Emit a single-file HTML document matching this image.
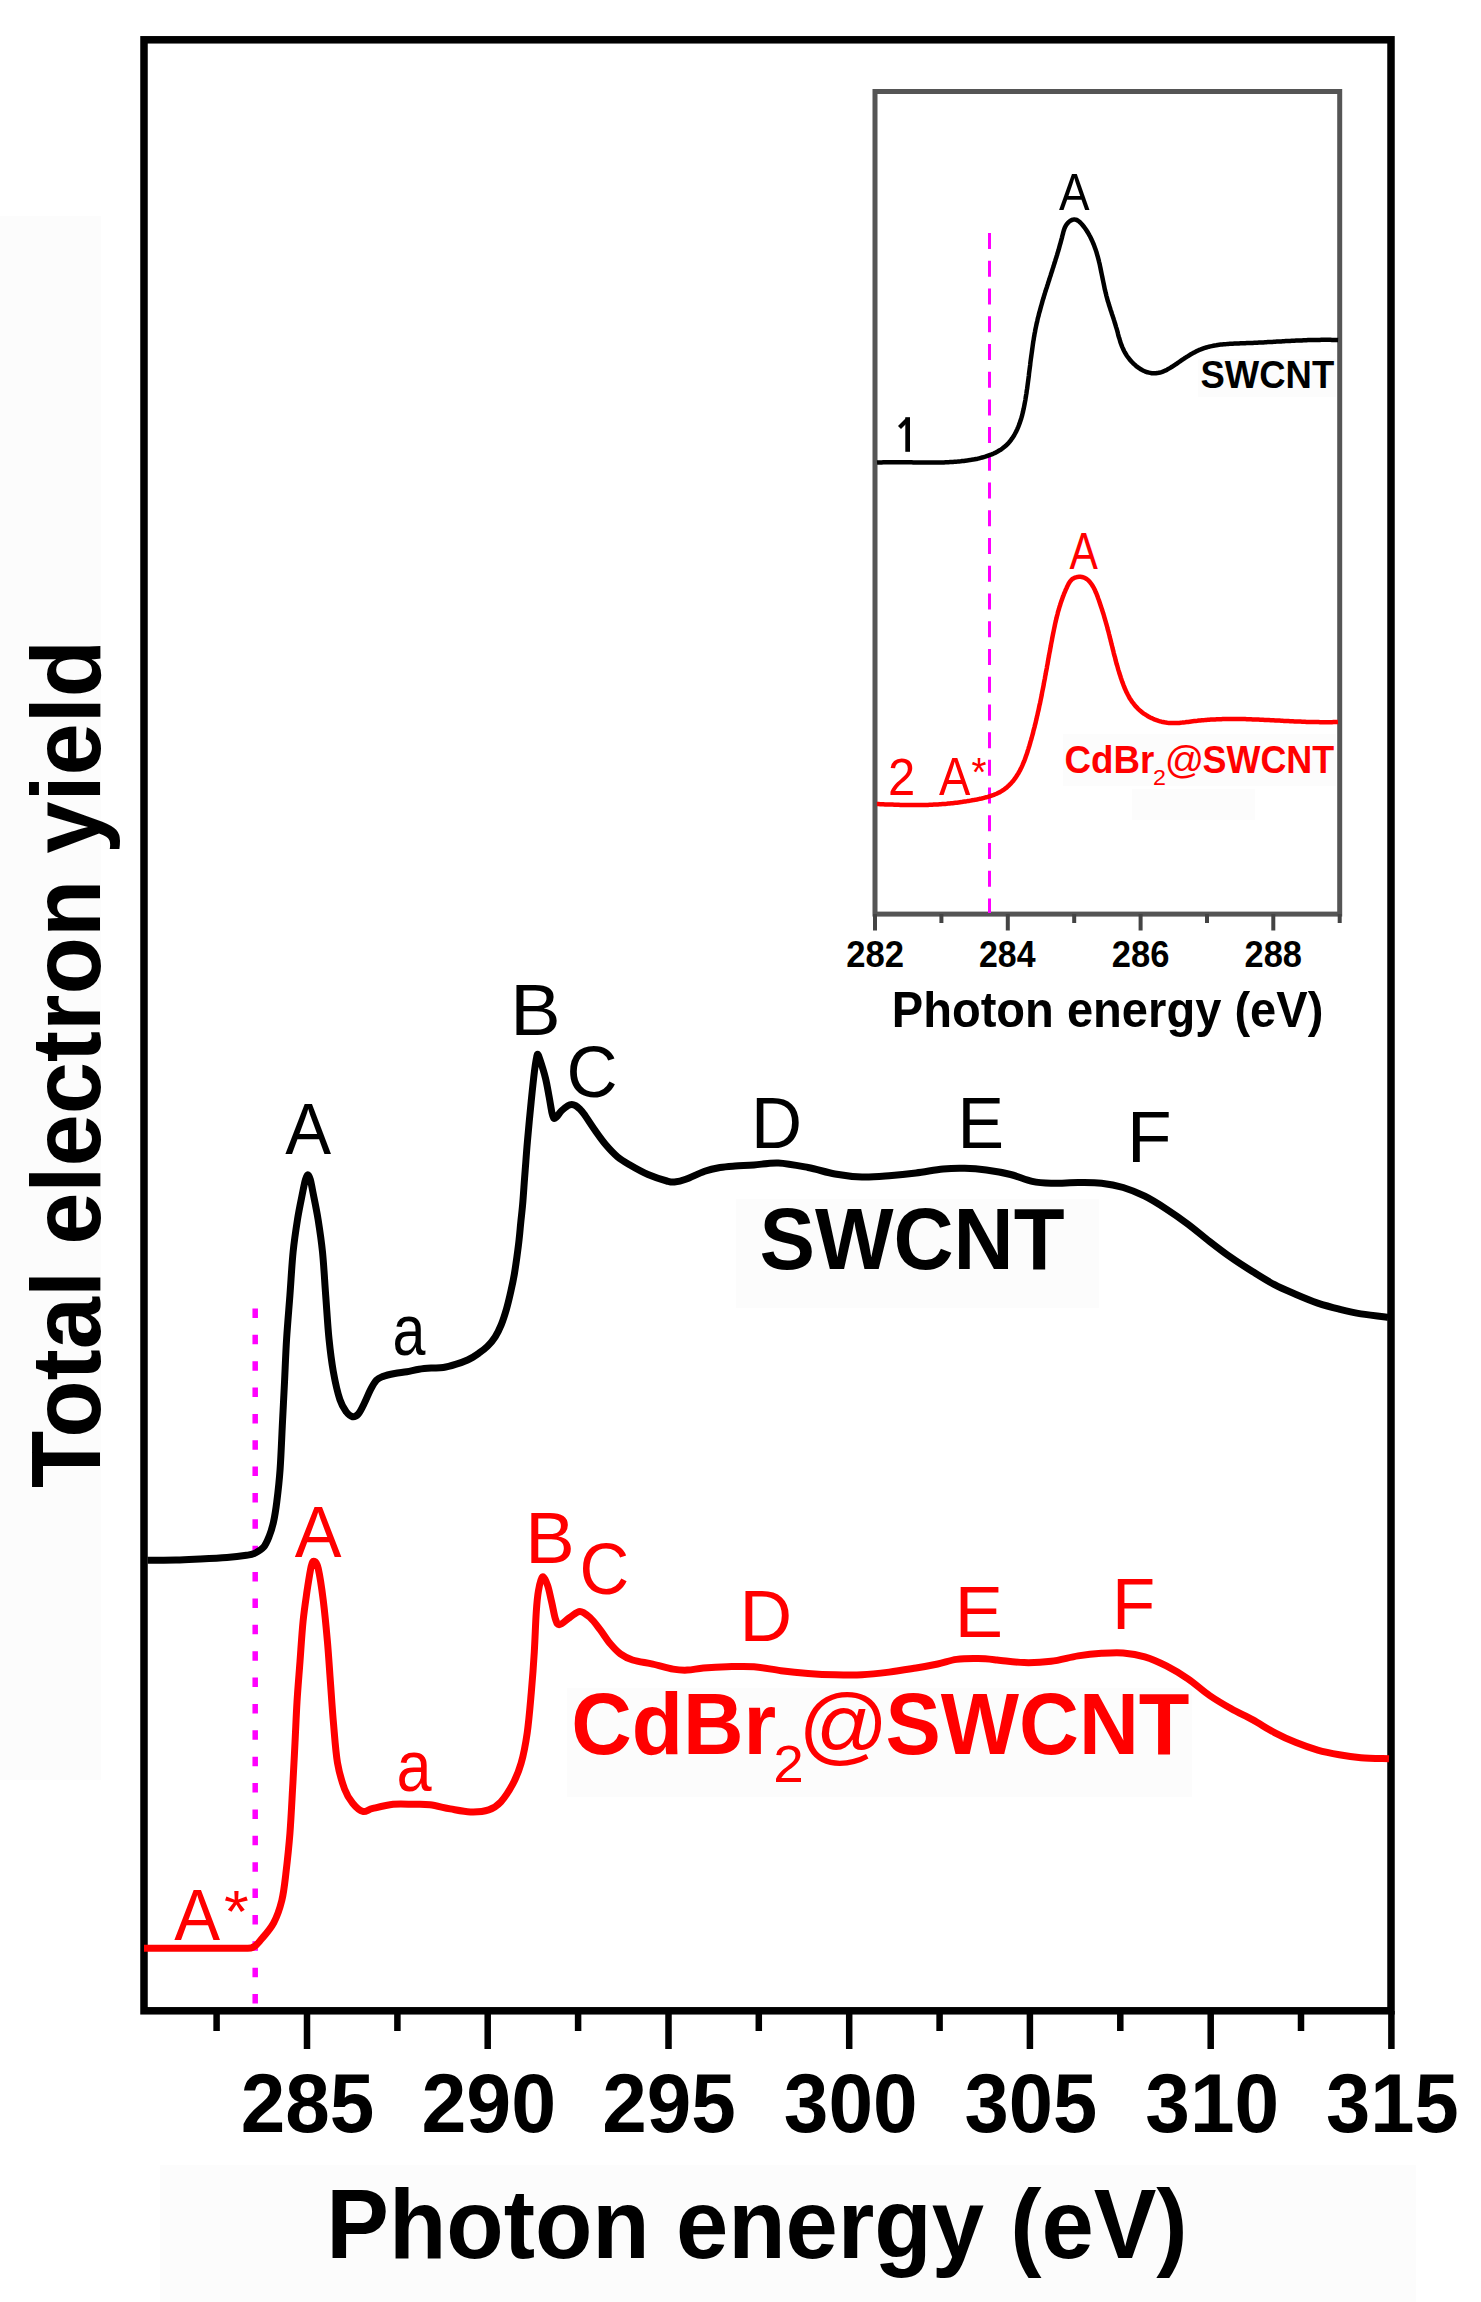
<!DOCTYPE html>
<html><head><meta charset="utf-8"><style>
html,body{margin:0;padding:0;background:#fff;width:1481px;height:2302px;overflow:hidden;position:relative}
text{font-family:"Liberation Sans",sans-serif}
</style></head><body>
<svg width="1481" height="2302" viewBox="0 0 1481 2302" style="position:absolute;left:0;top:0">
<rect x="0" y="216" width="101" height="1564" fill="#fcfcfc"/>
<rect x="736" y="1199" width="363" height="109" fill="#fcfcfc"/>
<rect x="567" y="1688" width="625" height="109" fill="#fcfcfc"/>
<rect x="160" y="2165" width="1256" height="137" fill="#fcfcfc"/>
<rect x="1198" y="359" width="138" height="38" fill="#fcfcfc"/>
<rect x="1063" y="734" width="273" height="52" fill="#fcfcfc"/>
<rect x="1132" y="789" width="123" height="31" fill="#fcfcfc"/>
<rect x="144" y="39.8" width="1247" height="1971" fill="none" stroke="#000" stroke-width="7.5"/>
<path d="M307.0,2011V2049 M487.7,2011V2049 M668.5,2011V2049 M849.2,2011V2049 M1029.9,2011V2049 M1210.7,2011V2049 M1391.4,2011V2049 M216.6,2011V2031 M397.4,2011V2031 M578.1,2011V2031 M758.8,2011V2031 M939.6,2011V2031 M1120.3,2011V2031 M1301.0,2011V2031" stroke="#000" stroke-width="6.5" fill="none"/>
<path d="M255.2,1308.4V2006" stroke="#ff00ff" stroke-width="5.5" stroke-dasharray="9.5 16.87" fill="none"/>
<path d="M147.6,1560.3 C152.3,1560.2 167.3,1560.2 176.0,1560.0 C184.7,1559.8 191.5,1559.4 200.0,1559.0 C208.5,1558.6 219.2,1558.1 226.9,1557.5 C234.6,1556.9 241.8,1556.0 246.4,1555.3 C251.0,1554.6 251.7,1554.6 254.5,1553.3 C257.4,1552.0 261.0,1550.2 263.5,1547.3 C266.0,1544.4 267.6,1540.2 269.3,1536.0 C271.0,1531.8 272.2,1527.7 273.5,1522.0 C274.8,1516.3 275.7,1510.6 276.8,1501.8 C277.9,1493.0 279.2,1481.9 280.1,1469.2 C281.0,1456.5 281.6,1440.3 282.3,1425.8 C283.0,1411.3 283.8,1396.9 284.5,1382.4 C285.2,1367.9 285.7,1353.4 286.6,1338.9 C287.5,1324.4 288.8,1310.0 289.9,1295.5 C291.0,1281.0 291.8,1264.7 293.1,1252.0 C294.4,1239.3 295.9,1229.6 297.5,1219.5 C299.1,1209.4 301.6,1197.9 302.9,1191.2 C304.2,1184.5 304.7,1182.2 305.5,1179.5 C306.3,1176.8 307.0,1174.8 307.8,1174.8 C308.6,1174.8 309.5,1176.8 310.3,1179.5 C311.1,1182.2 311.4,1184.5 312.7,1191.2 C314.0,1197.9 316.5,1209.4 318.1,1219.5 C319.7,1229.6 321.2,1239.3 322.5,1252.0 C323.8,1264.7 324.6,1281.0 325.7,1295.5 C326.8,1310.0 327.7,1326.2 329.0,1338.9 C330.3,1351.6 331.5,1361.4 333.3,1371.5 C335.1,1381.6 337.7,1393.0 339.9,1399.7 C342.1,1406.5 344.3,1409.2 346.4,1412.0 C348.5,1414.8 350.4,1416.3 352.4,1416.7 C354.4,1417.1 356.2,1416.4 358.2,1414.2 C360.2,1412.0 362.3,1407.3 364.3,1403.3 C366.3,1399.2 368.4,1393.8 370.4,1389.9 C372.4,1386.1 374.5,1382.4 376.5,1380.2 C378.5,1378.0 379.5,1377.7 382.5,1376.6 C385.5,1375.5 390.6,1374.3 394.7,1373.5 C398.8,1372.7 402.8,1372.4 406.8,1371.7 C410.9,1371.0 414.9,1369.9 419.0,1369.3 C423.1,1368.7 427.1,1368.4 431.2,1368.1 C435.2,1367.8 439.2,1368.1 443.3,1367.5 C447.4,1366.9 451.4,1365.7 455.5,1364.4 C459.6,1363.2 463.7,1361.8 467.6,1360.0 C471.5,1358.2 475.4,1355.6 478.7,1353.3 C482.0,1351.0 484.6,1349.2 487.4,1346.4 C490.1,1343.7 492.9,1340.4 495.2,1336.8 C497.5,1333.2 499.4,1329.2 501.3,1324.6 C503.2,1320.0 504.9,1314.5 506.5,1309.0 C508.1,1303.5 509.5,1297.4 510.8,1291.6 C512.1,1285.8 513.3,1280.1 514.3,1274.3 C515.3,1268.5 516.1,1262.7 516.9,1256.9 C517.7,1251.1 518.5,1245.3 519.1,1239.5 C519.8,1233.7 520.2,1227.9 520.8,1222.1 C521.4,1216.3 522.1,1210.6 522.6,1204.8 C523.1,1199.0 523.5,1193.2 523.9,1187.4 C524.3,1181.6 524.6,1177.6 525.2,1170.0 C525.8,1162.4 526.4,1153.2 527.4,1141.8 C528.4,1130.3 530.0,1113.1 531.2,1101.3 C532.4,1089.5 533.6,1078.1 534.5,1070.9 C535.4,1063.7 536.0,1060.8 536.5,1058.0 C537.0,1055.2 537.3,1054.1 537.8,1054.3 C538.3,1054.5 538.4,1055.0 539.7,1058.9 C541.0,1062.8 543.8,1071.5 545.4,1077.8 C547.0,1084.1 548.0,1090.8 549.1,1096.7 C550.2,1102.6 551.2,1109.4 552.0,1113.0 C552.8,1116.6 553.1,1117.6 553.9,1118.3 C554.6,1119.0 555.2,1118.2 556.5,1117.0 C557.8,1115.8 559.5,1112.8 561.4,1110.9 C563.3,1109.0 566.3,1106.7 568.0,1105.6 C569.7,1104.5 570.5,1104.5 571.8,1104.5 C573.1,1104.5 574.3,1104.9 575.6,1105.6 C576.9,1106.3 578.1,1107.4 579.5,1108.8 C580.9,1110.2 581.4,1110.4 584.0,1114.0 C586.6,1117.6 591.3,1125.1 595.0,1130.3 C598.7,1135.5 602.2,1140.6 606.0,1145.0 C609.8,1149.4 613.6,1153.5 617.5,1156.8 C621.4,1160.0 624.0,1161.5 629.1,1164.5 C634.2,1167.5 641.7,1171.8 648.0,1174.5 C654.3,1177.2 662.5,1179.8 666.9,1181.0 C671.3,1182.2 671.2,1182.3 674.4,1182.0 C677.5,1181.7 680.8,1181.1 685.8,1179.3 C690.8,1177.5 699.0,1173.3 704.7,1171.3 C710.4,1169.3 715.0,1168.4 720.0,1167.5 C725.0,1166.6 729.3,1166.4 735.0,1166.0 C740.7,1165.6 746.8,1165.5 754.0,1165.0 C761.2,1164.5 769.3,1162.6 778.3,1163.0 C787.3,1163.4 798.5,1165.7 808.0,1167.5 C817.5,1169.3 826.0,1172.4 835.0,1174.0 C844.0,1175.6 853.0,1176.7 862.0,1177.0 C871.0,1177.3 880.1,1176.4 889.1,1175.7 C898.1,1175.0 907.1,1174.1 916.1,1173.0 C925.1,1171.9 935.0,1169.8 943.1,1169.0 C951.2,1168.2 957.5,1168.1 964.7,1168.3 C971.9,1168.5 978.6,1169.0 986.3,1170.0 C993.9,1171.0 1003.0,1172.6 1010.6,1174.5 C1018.2,1176.4 1025.5,1179.8 1032.2,1181.3 C1039.0,1182.8 1043.4,1183.0 1051.1,1183.2 C1058.8,1183.4 1069.7,1182.6 1078.1,1182.6 C1086.5,1182.6 1094.1,1182.4 1101.6,1183.2 C1109.1,1184.0 1116.0,1185.3 1123.2,1187.5 C1130.4,1189.7 1137.6,1192.6 1144.8,1196.2 C1152.0,1199.8 1159.2,1204.4 1166.4,1209.1 C1173.6,1213.8 1180.8,1218.8 1188.0,1224.2 C1195.2,1229.6 1202.4,1235.9 1209.6,1241.5 C1216.8,1247.1 1224.1,1252.7 1231.3,1257.7 C1238.5,1262.8 1245.7,1267.3 1252.9,1271.8 C1260.1,1276.3 1267.3,1280.9 1274.5,1284.7 C1281.7,1288.5 1288.9,1291.4 1296.1,1294.5 C1303.3,1297.6 1310.5,1300.6 1317.7,1303.1 C1324.9,1305.5 1332.1,1307.4 1339.3,1309.2 C1346.5,1311.0 1352.8,1312.6 1360.9,1313.9 C1369.0,1315.2 1383.5,1316.7 1388.0,1317.2" stroke="#000" stroke-width="7" fill="none" stroke-linejoin="round" stroke-linecap="butt"/>
<path d="M144.0,1948.3 C150.1,1948.3 164.3,1948.3 180.5,1948.3 C196.7,1948.3 229.2,1948.4 241.3,1948.2 C253.5,1948.0 250.0,1948.5 253.4,1947.0 C256.8,1945.5 258.1,1943.0 261.5,1939.0 C264.9,1935.0 270.3,1929.2 273.7,1922.8 C277.1,1916.4 279.8,1908.6 281.8,1900.5 C283.8,1892.4 284.5,1885.3 285.8,1874.2 C287.1,1863.1 288.7,1848.9 289.9,1833.7 C291.1,1818.5 292.0,1798.3 292.9,1783.1 C293.8,1767.9 294.3,1756.1 295.0,1742.6 C295.7,1729.1 296.2,1715.5 297.0,1702.0 C297.8,1688.5 299.0,1675.0 300.0,1661.5 C301.0,1648.0 301.9,1632.8 303.1,1621.0 C304.3,1609.2 305.8,1599.7 307.1,1590.6 C308.5,1581.5 310.0,1571.2 311.2,1566.3 C312.4,1561.4 313.0,1560.9 314.2,1561.3 C315.4,1561.7 316.7,1561.8 318.2,1568.4 C319.7,1575.0 321.8,1588.7 323.3,1600.8 C324.8,1612.9 326.2,1627.8 327.4,1641.3 C328.6,1654.8 329.4,1668.3 330.4,1681.8 C331.4,1695.3 332.2,1708.8 333.4,1722.3 C334.6,1735.8 335.6,1751.7 337.5,1762.8 C339.4,1773.9 342.1,1782.3 344.6,1789.1 C347.1,1795.8 349.7,1799.6 352.7,1803.3 C355.7,1807.0 359.4,1810.6 362.8,1811.4 C366.2,1812.2 367.8,1809.6 372.9,1808.4 C378.0,1807.2 386.4,1805.0 393.2,1804.3 C399.9,1803.6 407.3,1804.2 413.4,1804.3 C419.5,1804.4 423.9,1804.0 430.0,1804.8 C436.1,1805.6 443.6,1807.7 450.3,1808.9 C457.1,1810.1 464.1,1811.7 470.5,1811.9 C476.9,1812.1 483.6,1811.6 488.7,1809.9 C493.8,1808.2 496.8,1806.2 500.9,1801.8 C504.9,1797.4 509.6,1790.0 513.0,1783.6 C516.4,1777.2 518.7,1771.8 521.1,1763.3 C523.5,1754.8 525.5,1744.7 527.2,1732.9 C528.9,1721.1 530.1,1705.9 531.3,1692.4 C532.5,1678.9 533.5,1665.4 534.3,1651.9 C535.1,1638.4 535.6,1621.5 536.3,1611.4 C537.0,1601.3 537.4,1596.8 538.4,1591.1 C539.4,1585.4 540.9,1578.0 542.4,1577.0 C543.9,1576.0 546.0,1581.0 547.5,1585.1 C549.0,1589.1 550.1,1595.6 551.5,1601.3 C552.9,1607.0 554.2,1615.6 555.6,1619.5 C557.0,1623.4 557.2,1624.9 559.6,1624.6 C562.0,1624.3 566.4,1619.7 569.8,1617.5 C573.2,1615.3 576.5,1611.4 579.9,1611.4 C583.3,1611.4 586.6,1614.5 590.0,1617.5 C593.4,1620.5 596.7,1625.2 600.1,1629.6 C603.5,1634.0 606.9,1639.8 610.3,1643.8 C613.7,1647.8 616.7,1651.2 620.4,1653.9 C624.1,1656.6 627.2,1658.3 632.6,1660.0 C638.0,1661.7 646.0,1662.6 652.8,1664.1 C659.5,1665.6 667.4,1668.1 673.1,1669.1 C678.8,1670.1 682.2,1670.3 687.2,1670.1 C692.2,1669.9 696.8,1668.7 703.4,1668.1 C710.0,1667.5 718.6,1666.9 727.0,1666.7 C735.4,1666.5 745.0,1666.0 754.0,1666.7 C763.0,1667.4 772.0,1669.6 781.0,1670.7 C790.0,1671.8 799.0,1672.7 808.0,1673.4 C817.0,1674.1 826.0,1674.6 835.0,1674.8 C844.0,1675.0 853.0,1675.2 862.0,1674.8 C871.0,1674.3 880.1,1673.2 889.1,1672.1 C898.1,1671.0 908.0,1669.3 916.1,1668.0 C924.2,1666.7 931.0,1665.4 937.7,1664.0 C944.5,1662.6 949.9,1660.3 956.6,1659.4 C963.4,1658.5 971.5,1658.5 978.2,1658.6 C985.0,1658.7 989.5,1659.2 997.1,1659.9 C1004.8,1660.6 1015.1,1662.4 1024.1,1662.6 C1033.1,1662.8 1042.1,1662.4 1051.1,1661.3 C1060.1,1660.2 1069.7,1657.2 1078.1,1655.9 C1086.5,1654.6 1094.1,1653.8 1101.6,1653.3 C1109.1,1652.8 1116.0,1652.3 1123.2,1652.9 C1130.4,1653.5 1137.6,1654.6 1144.8,1656.8 C1152.0,1659.0 1159.2,1662.2 1166.4,1665.9 C1173.6,1669.6 1180.8,1673.9 1188.0,1678.8 C1195.2,1683.7 1202.4,1690.5 1209.6,1695.5 C1216.8,1700.5 1224.1,1704.7 1231.3,1708.8 C1238.5,1712.9 1245.7,1715.9 1252.9,1719.9 C1260.1,1723.9 1267.3,1728.8 1274.5,1732.6 C1281.7,1736.4 1288.9,1739.7 1296.1,1742.6 C1303.3,1745.5 1310.5,1748.1 1317.7,1750.1 C1324.9,1752.1 1332.1,1753.5 1339.3,1754.8 C1346.5,1756.1 1352.6,1757.0 1360.9,1757.7 C1369.2,1758.4 1384.3,1758.6 1389.0,1758.8" stroke="#ff0000" stroke-width="7" fill="none" stroke-linejoin="round" stroke-linecap="butt"/>
<rect x="875" y="91.5" width="464.7" height="822.6" fill="none" stroke="#555" stroke-width="5"/>
<path d="M875.0,914V930.5 M1007.8,914V930.5 M1140.6,914V930.5 M1273.3,914V930.5 M941.4,914V923 M1074.2,914V923 M1207.0,914V923 M1339.7,914V923" stroke="#444" stroke-width="4" fill="none"/>
<path d="M989.5,233V913" stroke="#ff00ff" stroke-width="3" stroke-dasharray="16 11.73" fill="none"/>
<path d="M877.0,462.6 L878.6,462.5 L880.1,462.5 L881.7,462.4 L883.2,462.3 L884.8,462.3 L886.3,462.3 L887.9,462.2 L889.4,462.2 L890.9,462.2 L892.4,462.2 L893.9,462.2 L895.4,462.2 L896.9,462.2 L898.4,462.2 L899.9,462.2 L901.4,462.2 L902.9,462.2 L904.4,462.2 L905.8,462.2 L907.3,462.3 L908.8,462.3 L910.3,462.3 L911.7,462.3 L913.2,462.4 L914.7,462.4 L916.1,462.4 L917.6,462.4 L919.0,462.5 L920.5,462.5 L922.0,462.5 L923.4,462.5 L924.9,462.6 L926.3,462.6 L927.8,462.6 L929.3,462.6 L930.7,462.6 L932.2,462.6 L933.7,462.6 L935.1,462.6 L936.6,462.6 L938.1,462.5 L939.6,462.5 L941.0,462.5 L942.5,462.5 L944.0,462.4 L945.5,462.3 L947.0,462.3 L948.5,462.2 L950.0,462.1 L951.5,462.0 L953.0,461.9 L954.5,461.8 L956.1,461.7 L957.6,461.6 L959.1,461.4 L960.7,461.3 L962.2,461.1 L963.8,461.0 L965.3,460.8 L966.9,460.6 L968.4,460.3 L970.0,460.1 L971.5,459.8 L973.1,459.6 L974.6,459.3 L976.2,459.0 L977.7,458.7 L979.2,458.3 L980.7,457.9 L982.2,457.5 L983.7,457.1 L985.2,456.7 L986.7,456.2 L988.1,455.7 L989.5,455.2 L990.9,454.7 L992.3,454.1 L993.7,453.5 L995.0,452.9 L996.3,452.2 L997.6,451.5 L998.8,450.8 L1000.1,450.1 L1001.3,449.3 L1002.4,448.5 L1003.5,447.6 L1004.6,446.7 L1005.7,445.8 L1006.7,444.8 L1007.7,443.8 L1008.7,442.8 L1009.6,441.8 L1010.5,440.7 L1011.3,439.5 L1012.1,438.4 L1012.9,437.2 L1013.7,436.0 L1014.4,434.8 L1015.1,433.5 L1015.8,432.2 L1016.5,430.9 L1017.1,429.6 L1017.7,428.2 L1018.3,426.8 L1018.8,425.5 L1019.3,424.0 L1019.9,422.6 L1020.3,421.2 L1020.8,419.7 L1021.3,418.2 L1021.7,416.8 L1022.1,415.3 L1022.5,413.7 L1022.9,412.2 L1023.2,410.7 L1023.6,409.2 L1023.9,407.6 L1024.2,406.1 L1024.5,404.5 L1024.8,402.9 L1025.1,401.4 L1025.4,399.8 L1025.6,398.3 L1025.9,396.7 L1026.1,395.1 L1026.4,393.6 L1026.6,392.0 L1026.8,390.4 L1027.1,388.9 L1027.3,387.3 L1027.5,385.8 L1027.7,384.3 L1027.9,382.7 L1028.1,381.2 L1028.3,379.7 L1028.5,378.2 L1028.7,376.7 L1028.9,375.2 L1029.0,373.7 L1029.2,372.2 L1029.4,370.7 L1029.6,369.2 L1029.8,367.7 L1030.0,366.2 L1030.2,364.7 L1030.3,363.3 L1030.5,361.8 L1030.7,360.3 L1030.9,358.8 L1031.1,357.4 L1031.3,355.9 L1031.5,354.5 L1031.7,353.0 L1031.9,351.6 L1032.1,350.1 L1032.3,348.6 L1032.5,347.2 L1032.7,345.8 L1032.9,344.3 L1033.1,342.9 L1033.3,341.4 L1033.6,340.0 L1033.8,338.5 L1034.0,337.1 L1034.3,335.7 L1034.5,334.2 L1034.8,332.8 L1035.1,331.4 L1035.3,329.9 L1035.6,328.5 L1035.9,327.1 L1036.2,325.6 L1036.5,324.2 L1036.8,322.8 L1037.2,321.3 L1037.5,319.9 L1037.8,318.4 L1038.2,317.0 L1038.6,315.6 L1038.9,314.1 L1039.3,312.7 L1039.7,311.3 L1040.1,309.8 L1040.5,308.4 L1040.9,306.9 L1041.3,305.5 L1041.7,304.1 L1042.1,302.6 L1042.5,301.2 L1042.9,299.7 L1043.4,298.3 L1043.8,296.8 L1044.2,295.4 L1044.7,294.0 L1045.1,292.5 L1045.6,291.1 L1046.0,289.6 L1046.5,288.2 L1047.0,286.7 L1047.4,285.3 L1047.9,283.9 L1048.3,282.4 L1048.8,281.0 L1049.3,279.5 L1049.7,278.1 L1050.2,276.6 L1050.7,275.2 L1051.1,273.7 L1051.6,272.3 L1052.1,270.8 L1052.5,269.4 L1053.0,267.9 L1053.5,266.5 L1053.9,265.0 L1054.4,263.6 L1054.8,262.1 L1055.3,260.7 L1055.7,259.2 L1056.2,257.8 L1056.6,256.3 L1057.1,254.9 L1057.5,253.4 L1057.9,252.0 L1058.4,250.5 L1058.8,249.1 L1059.2,247.6 L1059.6,246.2 L1060.0,244.7 L1060.4,243.3 L1060.8,241.8 L1061.2,240.4 L1061.6,238.9 L1062.0,237.5 L1062.3,236.0 L1062.7,234.6 L1063.1,233.1 L1063.4,231.7 L1063.9,230.3 L1064.3,228.9 L1064.9,227.5 L1065.5,226.2 L1066.3,224.9 L1067.2,223.7 L1068.2,222.6 L1069.3,221.5 L1070.5,220.7 L1071.8,220.0 L1073.1,219.6 L1074.3,219.4 L1075.6,219.6 L1076.8,220.0 L1078.0,220.7 L1079.1,221.5 L1080.2,222.5 L1081.3,223.6 L1082.3,224.8 L1083.3,226.0 L1084.3,227.2 L1085.2,228.5 L1086.1,229.8 L1086.9,231.1 L1087.8,232.4 L1088.6,233.8 L1089.3,235.1 L1090.1,236.5 L1090.8,237.9 L1091.4,239.3 L1092.1,240.7 L1092.7,242.1 L1093.3,243.5 L1093.9,244.9 L1094.4,246.3 L1094.9,247.7 L1095.4,249.1 L1095.9,250.5 L1096.4,251.9 L1096.8,253.4 L1097.2,254.8 L1097.6,256.2 L1098.0,257.7 L1098.4,259.1 L1098.8,260.6 L1099.1,262.0 L1099.5,263.5 L1099.8,264.9 L1100.1,266.4 L1100.4,267.8 L1100.7,269.3 L1101.0,270.7 L1101.3,272.2 L1101.6,273.6 L1101.9,275.1 L1102.2,276.5 L1102.5,278.0 L1102.8,279.5 L1103.1,280.9 L1103.4,282.4 L1103.7,283.8 L1104.0,285.3 L1104.3,286.8 L1104.6,288.2 L1104.9,289.7 L1105.3,291.1 L1105.6,292.6 L1106.0,294.0 L1106.3,295.5 L1106.7,296.9 L1107.1,298.4 L1107.5,299.8 L1107.9,301.3 L1108.4,302.7 L1108.8,304.2 L1109.2,305.6 L1109.7,307.0 L1110.2,308.5 L1110.6,309.9 L1111.1,311.3 L1111.6,312.8 L1112.0,314.2 L1112.5,315.6 L1113.0,317.1 L1113.5,318.5 L1113.9,319.9 L1114.4,321.4 L1114.8,322.8 L1115.3,324.3 L1115.7,325.7 L1116.1,327.1 L1116.6,328.6 L1117.0,330.0 L1117.4,331.4 L1117.8,332.9 L1118.1,334.3 L1118.5,335.8 L1118.9,337.2 L1119.4,338.6 L1119.8,340.0 L1120.2,341.5 L1120.7,342.9 L1121.2,344.3 L1121.7,345.7 L1122.3,347.1 L1122.9,348.4 L1123.5,349.8 L1124.2,351.2 L1124.9,352.5 L1125.7,353.8 L1126.5,355.2 L1127.4,356.5 L1128.3,357.7 L1129.3,359.0 L1130.3,360.2 L1131.3,361.4 L1132.4,362.5 L1133.5,363.6 L1134.7,364.7 L1135.8,365.7 L1137.0,366.7 L1138.3,367.6 L1139.5,368.4 L1140.8,369.3 L1142.1,370.0 L1143.5,370.7 L1144.8,371.3 L1146.2,371.8 L1147.5,372.3 L1148.9,372.6 L1150.3,372.9 L1151.7,373.2 L1153.1,373.3 L1154.5,373.3 L1155.9,373.3 L1157.3,373.1 L1158.7,372.8 L1160.1,372.5 L1161.5,372.1 L1162.9,371.6 L1164.3,371.0 L1165.7,370.4 L1167.1,369.7 L1168.4,368.9 L1169.8,368.1 L1171.1,367.3 L1172.5,366.5 L1173.8,365.6 L1175.2,364.7 L1176.5,363.8 L1177.8,362.9 L1179.1,362.0 L1180.4,361.1 L1181.7,360.2 L1182.9,359.4 L1184.2,358.5 L1185.5,357.7 L1186.7,356.9 L1188.0,356.1 L1189.2,355.3 L1190.5,354.5 L1191.8,353.8 L1193.0,353.1 L1194.3,352.4 L1195.6,351.7 L1196.8,351.1 L1198.1,350.5 L1199.4,349.9 L1200.8,349.4 L1202.1,348.9 L1203.4,348.4 L1204.8,347.9 L1206.2,347.5 L1207.6,347.1 L1209.0,346.7 L1210.4,346.4 L1211.8,346.1 L1213.3,345.8 L1214.7,345.5 L1216.2,345.3 L1217.7,345.0 L1219.2,344.8 L1220.7,344.6 L1222.2,344.5 L1223.7,344.3 L1225.2,344.2 L1226.7,344.1 L1228.2,343.9 L1229.8,343.8 L1231.3,343.7 L1232.8,343.7 L1234.4,343.6 L1235.9,343.5 L1237.5,343.5 L1239.0,343.4 L1240.5,343.3 L1242.1,343.3 L1243.6,343.2 L1245.2,343.2 L1246.7,343.1 L1248.2,343.1 L1249.8,343.0 L1251.3,342.9 L1252.8,342.9 L1254.3,342.8 L1255.8,342.7 L1257.3,342.7 L1258.9,342.6 L1260.4,342.5 L1261.9,342.4 L1263.4,342.4 L1264.9,342.3 L1266.4,342.2 L1267.8,342.1 L1269.3,342.0 L1270.8,342.0 L1272.3,341.9 L1273.8,341.8 L1275.3,341.7 L1276.8,341.6 L1278.3,341.6 L1279.7,341.5 L1281.2,341.4 L1282.7,341.3 L1284.2,341.2 L1285.7,341.1 L1287.1,341.1 L1288.6,341.0 L1290.1,340.9 L1291.6,340.8 L1293.0,340.8 L1294.5,340.7 L1296.0,340.6 L1297.5,340.6 L1299.0,340.5 L1300.4,340.4 L1301.9,340.4 L1303.4,340.3 L1304.9,340.2 L1306.4,340.2 L1307.9,340.1 L1309.3,340.1 L1310.8,340.1 L1312.3,340.0 L1313.8,340.0 L1315.3,339.9 L1316.8,339.9 L1318.3,339.9 L1319.8,339.9 L1321.3,339.8 L1322.8,339.8 L1324.3,339.8 L1325.8,339.8 L1327.4,339.8 L1328.9,339.8 L1330.4,339.8 L1331.9,339.9 L1333.5,339.9 L1335.0,339.9 L1336.5,339.9 L1338.1,340.0" stroke="#000" stroke-width="4.5" fill="none" stroke-linejoin="round"/>
<path d="M876.9,804.1 L878.6,804.1 L880.2,804.2 L881.8,804.3 L883.4,804.3 L884.9,804.4 L886.5,804.4 L888.1,804.5 L889.6,804.5 L891.2,804.6 L892.7,804.6 L894.2,804.7 L895.8,804.7 L897.3,804.8 L898.8,804.8 L900.3,804.9 L901.8,804.9 L903.3,804.9 L904.8,805.0 L906.2,805.0 L907.7,805.0 L909.2,805.0 L910.7,805.0 L912.1,805.1 L913.6,805.1 L915.0,805.1 L916.5,805.1 L917.9,805.1 L919.4,805.0 L920.8,805.0 L922.2,805.0 L923.7,805.0 L925.1,804.9 L926.6,804.9 L928.0,804.9 L929.4,804.8 L930.9,804.8 L932.3,804.7 L933.7,804.6 L935.2,804.6 L936.6,804.5 L938.0,804.4 L939.5,804.3 L940.9,804.2 L942.4,804.1 L943.8,804.0 L945.3,803.9 L946.7,803.8 L948.2,803.6 L949.6,803.5 L951.1,803.3 L952.6,803.2 L954.0,803.0 L955.5,802.8 L957.0,802.7 L958.5,802.5 L960.0,802.3 L961.5,802.1 L963.0,801.8 L964.5,801.6 L966.0,801.4 L967.5,801.1 L969.1,800.9 L970.6,800.6 L972.2,800.3 L973.7,800.1 L975.3,799.8 L976.9,799.5 L978.5,799.1 L980.0,798.8 L981.6,798.5 L983.2,798.1 L984.7,797.7 L986.3,797.3 L987.8,796.9 L989.4,796.4 L990.9,795.9 L992.3,795.4 L993.8,794.9 L995.2,794.3 L996.6,793.7 L998.0,793.0 L999.3,792.4 L1000.6,791.7 L1001.9,790.9 L1003.1,790.1 L1004.3,789.3 L1005.5,788.4 L1006.6,787.6 L1007.6,786.6 L1008.7,785.7 L1009.7,784.7 L1010.7,783.7 L1011.7,782.6 L1012.6,781.6 L1013.5,780.5 L1014.3,779.4 L1015.2,778.2 L1016.0,777.0 L1016.8,775.8 L1017.5,774.6 L1018.3,773.4 L1019.0,772.1 L1019.7,770.9 L1020.4,769.6 L1021.0,768.3 L1021.7,766.9 L1022.3,765.6 L1022.9,764.2 L1023.4,762.9 L1024.0,761.5 L1024.6,760.1 L1025.1,758.7 L1025.6,757.3 L1026.1,755.8 L1026.6,754.4 L1027.1,753.0 L1027.6,751.5 L1028.0,750.1 L1028.5,748.6 L1028.9,747.2 L1029.4,745.7 L1029.8,744.3 L1030.2,742.8 L1030.6,741.4 L1031.1,739.9 L1031.5,738.4 L1031.9,737.0 L1032.3,735.5 L1032.7,734.1 L1033.1,732.6 L1033.4,731.1 L1033.8,729.7 L1034.2,728.2 L1034.6,726.8 L1034.9,725.3 L1035.3,723.8 L1035.7,722.4 L1036.0,720.9 L1036.4,719.4 L1036.7,718.0 L1037.0,716.5 L1037.4,715.1 L1037.7,713.6 L1038.0,712.1 L1038.4,710.7 L1038.7,709.2 L1039.0,707.7 L1039.3,706.3 L1039.6,704.8 L1040.0,703.3 L1040.3,701.9 L1040.6,700.4 L1040.9,698.9 L1041.2,697.5 L1041.5,696.0 L1041.8,694.5 L1042.0,693.1 L1042.3,691.6 L1042.6,690.1 L1042.9,688.7 L1043.2,687.2 L1043.5,685.7 L1043.8,684.2 L1044.0,682.8 L1044.3,681.3 L1044.6,679.8 L1044.9,678.4 L1045.1,676.9 L1045.4,675.4 L1045.7,674.0 L1045.9,672.5 L1046.2,671.0 L1046.5,669.6 L1046.8,668.1 L1047.0,666.6 L1047.3,665.1 L1047.6,663.7 L1047.8,662.2 L1048.1,660.7 L1048.3,659.3 L1048.6,657.8 L1048.9,656.3 L1049.1,654.9 L1049.4,653.4 L1049.7,651.9 L1050.0,650.5 L1050.2,649.0 L1050.5,647.5 L1050.8,646.0 L1051.0,644.6 L1051.3,643.1 L1051.6,641.6 L1051.9,640.2 L1052.1,638.7 L1052.4,637.2 L1052.7,635.8 L1053.0,634.3 L1053.3,632.8 L1053.6,631.4 L1053.9,629.9 L1054.2,628.4 L1054.5,627.0 L1054.8,625.5 L1055.1,624.0 L1055.4,622.6 L1055.8,621.1 L1056.1,619.7 L1056.5,618.2 L1056.8,616.7 L1057.2,615.3 L1057.6,613.8 L1057.9,612.4 L1058.3,610.9 L1058.8,609.5 L1059.2,608.0 L1059.6,606.6 L1060.1,605.2 L1060.5,603.7 L1061.0,602.3 L1061.5,600.8 L1062.0,599.4 L1062.5,598.0 L1063.0,596.5 L1063.6,595.1 L1064.1,593.7 L1064.7,592.3 L1065.3,590.9 L1065.9,589.4 L1066.6,588.0 L1067.2,586.6 L1067.9,585.2 L1068.6,583.8 L1069.4,582.5 L1070.2,581.3 L1071.2,580.2 L1072.2,579.2 L1073.4,578.4 L1074.7,577.7 L1076.1,577.3 L1077.5,576.9 L1079.0,576.8 L1080.4,576.8 L1081.8,577.0 L1083.1,577.3 L1084.3,577.7 L1085.5,578.3 L1086.6,579.0 L1087.7,579.8 L1088.7,580.7 L1089.6,581.7 L1090.5,582.8 L1091.4,584.0 L1092.2,585.2 L1093.0,586.5 L1093.8,587.9 L1094.5,589.3 L1095.2,590.8 L1095.8,592.3 L1096.5,593.8 L1097.1,595.4 L1097.7,596.9 L1098.2,598.5 L1098.8,600.0 L1099.3,601.5 L1099.8,603.0 L1100.3,604.5 L1100.8,606.0 L1101.3,607.4 L1101.8,608.9 L1102.2,610.3 L1102.7,611.7 L1103.1,613.1 L1103.6,614.5 L1104.0,615.9 L1104.4,617.3 L1104.8,618.7 L1105.2,620.1 L1105.6,621.4 L1106.0,622.8 L1106.4,624.2 L1106.8,625.6 L1107.2,627.0 L1107.5,628.4 L1107.9,629.8 L1108.3,631.2 L1108.7,632.6 L1109.0,634.0 L1109.4,635.4 L1109.7,636.9 L1110.1,638.3 L1110.5,639.7 L1110.8,641.2 L1111.2,642.6 L1111.5,644.1 L1111.9,645.5 L1112.3,647.0 L1112.6,648.4 L1113.0,649.9 L1113.4,651.4 L1113.7,652.8 L1114.1,654.3 L1114.5,655.8 L1114.9,657.2 L1115.3,658.7 L1115.6,660.2 L1116.0,661.6 L1116.4,663.1 L1116.8,664.6 L1117.3,666.0 L1117.7,667.5 L1118.1,669.0 L1118.5,670.4 L1119.0,671.9 L1119.4,673.3 L1119.9,674.8 L1120.4,676.2 L1120.8,677.7 L1121.3,679.1 L1121.8,680.6 L1122.3,682.0 L1122.9,683.4 L1123.4,684.8 L1124.0,686.3 L1124.5,687.7 L1125.1,689.0 L1125.7,690.4 L1126.3,691.8 L1127.0,693.1 L1127.7,694.5 L1128.4,695.8 L1129.1,697.1 L1129.8,698.4 L1130.6,699.6 L1131.4,700.8 L1132.3,702.1 L1133.2,703.2 L1134.1,704.4 L1135.0,705.5 L1136.0,706.7 L1137.0,707.7 L1138.1,708.8 L1139.2,709.8 L1140.3,710.8 L1141.4,711.7 L1142.6,712.7 L1143.8,713.6 L1145.1,714.4 L1146.3,715.2 L1147.6,716.0 L1148.9,716.8 L1150.2,717.5 L1151.6,718.1 L1153.0,718.8 L1154.3,719.4 L1155.7,719.9 L1157.2,720.4 L1158.6,720.9 L1160.0,721.3 L1161.5,721.7 L1162.9,722.0 L1164.4,722.3 L1165.9,722.6 L1167.3,722.8 L1168.8,722.9 L1170.3,723.0 L1171.8,723.1 L1173.3,723.1 L1174.8,723.1 L1176.3,723.0 L1177.7,723.0 L1179.2,722.9 L1180.7,722.7 L1182.2,722.6 L1183.7,722.4 L1185.2,722.3 L1186.7,722.1 L1188.2,721.9 L1189.7,721.7 L1191.2,721.5 L1192.7,721.3 L1194.3,721.1 L1195.8,720.9 L1197.3,720.8 L1198.8,720.6 L1200.3,720.5 L1201.8,720.3 L1203.3,720.2 L1204.8,720.1 L1206.3,719.9 L1207.8,719.8 L1209.3,719.7 L1210.8,719.6 L1212.3,719.5 L1213.8,719.5 L1215.2,719.4 L1216.7,719.3 L1218.2,719.3 L1219.7,719.2 L1221.2,719.2 L1222.7,719.1 L1224.2,719.1 L1225.7,719.1 L1227.2,719.0 L1228.7,719.0 L1230.2,719.0 L1231.7,719.0 L1233.2,719.0 L1234.7,719.0 L1236.2,719.0 L1237.7,719.0 L1239.2,719.0 L1240.7,719.1 L1242.2,719.1 L1243.7,719.1 L1245.2,719.1 L1246.7,719.2 L1248.2,719.2 L1249.7,719.3 L1251.1,719.3 L1252.6,719.4 L1254.1,719.4 L1255.6,719.5 L1257.1,719.5 L1258.6,719.6 L1260.1,719.7 L1261.6,719.7 L1263.1,719.8 L1264.6,719.9 L1266.1,719.9 L1267.6,720.0 L1269.1,720.1 L1270.6,720.2 L1272.1,720.2 L1273.6,720.3 L1275.1,720.4 L1276.6,720.5 L1278.0,720.5 L1279.5,720.6 L1281.0,720.7 L1282.5,720.8 L1284.0,720.9 L1285.5,720.9 L1287.0,721.0 L1288.5,721.1 L1290.0,721.2 L1291.5,721.2 L1293.0,721.3 L1294.5,721.4 L1296.0,721.4 L1297.5,721.5 L1299.0,721.6 L1300.5,721.6 L1302.0,721.7 L1303.5,721.7 L1305.0,721.8 L1306.5,721.9 L1308.0,721.9 L1309.5,721.9 L1311.0,722.0 L1312.5,722.0 L1314.0,722.1 L1315.5,722.1 L1317.0,722.1 L1318.5,722.1 L1320.0,722.2 L1321.5,722.2 L1323.0,722.2 L1324.5,722.2 L1326.0,722.2 L1327.5,722.2 L1329.0,722.2 L1330.5,722.2 L1332.0,722.2 L1333.5,722.1 L1335.0,722.1 L1336.5,722.1 L1338.0,722.0" stroke="#ff0000" stroke-width="4.5" fill="none" stroke-linejoin="round"/>
<g font-family="Liberation Sans, sans-serif">
<text x="240.72" y="2132.4" font-size="84.3" font-weight="bold" fill="#000" textLength="133.6" lengthAdjust="spacingAndGlyphs">285</text>
<text x="421.44" y="2132.4" font-size="84.3" font-weight="bold" fill="#000" textLength="134.71" lengthAdjust="spacingAndGlyphs">290</text>
<text x="602.19" y="2132.4" font-size="84.3" font-weight="bold" fill="#000" textLength="133.6" lengthAdjust="spacingAndGlyphs">295</text>
<text x="783.87" y="2132.4" font-size="84.3" font-weight="bold" fill="#000" textLength="133.73" lengthAdjust="spacingAndGlyphs">300</text>
<text x="964.62" y="2132.4" font-size="84.3" font-weight="bold" fill="#000" textLength="132.64" lengthAdjust="spacingAndGlyphs">305</text>
<text x="1145.34" y="2132.4" font-size="84.3" font-weight="bold" fill="#000" textLength="133.73" lengthAdjust="spacingAndGlyphs">310</text>
<text x="1326.09" y="2132.4" font-size="84.3" font-weight="bold" fill="#000" textLength="132.64" lengthAdjust="spacingAndGlyphs">315</text>
<text x="326.21" y="2258.3" font-size="98" font-weight="bold" fill="#000" textLength="861.47" lengthAdjust="spacingAndGlyphs">Photon energy (eV)</text>
<text transform="translate(100.1,2133) rotate(-90)" x="644.95" y="0" font-size="98.3" font-weight="bold" textLength="848.18" lengthAdjust="spacingAndGlyphs">Total electron yield</text>
<text x="285.37" y="1154.3" font-size="72" font-weight="normal" fill="#000" textLength="45.87" lengthAdjust="spacingAndGlyphs">A</text>
<text x="392.59" y="1355" font-size="72" font-weight="normal" fill="#000" textLength="32.91" lengthAdjust="spacingAndGlyphs">a</text>
<text x="510.3" y="1034.8" font-size="72" font-weight="normal" fill="#000" textLength="50.38" lengthAdjust="spacingAndGlyphs">B</text>
<text x="566.41" y="1097.4" font-size="72" font-weight="normal" fill="#000" textLength="51.09" lengthAdjust="spacingAndGlyphs">C</text>
<text x="750.9" y="1147.5" font-size="72" font-weight="normal" fill="#000" textLength="51.09" lengthAdjust="spacingAndGlyphs">D</text>
<text x="957.58" y="1147.5" font-size="72" font-weight="normal" fill="#000" textLength="46.52" lengthAdjust="spacingAndGlyphs">E</text>
<text x="1126.91" y="1161.6" font-size="72" font-weight="normal" fill="#000" textLength="44.62" lengthAdjust="spacingAndGlyphs">F</text>
<text x="759.4" y="1269.2" font-size="87.8" font-weight="bold" fill="#000" textLength="305.19" lengthAdjust="spacingAndGlyphs">SWCNT</text>
<text x="294.86" y="1556.5" font-size="72" font-weight="normal" fill="#ff0000" textLength="46.77" lengthAdjust="spacingAndGlyphs">A</text>
<text x="396.62" y="1790.5" font-size="72" font-weight="normal" fill="#ff0000" textLength="35.08" lengthAdjust="spacingAndGlyphs">a</text>
<text x="525.21" y="1562.8" font-size="72" font-weight="normal" fill="#ff0000" textLength="49.5" lengthAdjust="spacingAndGlyphs">B</text>
<text x="579.4" y="1593.5" font-size="72" font-weight="normal" fill="#ff0000" textLength="49.72" lengthAdjust="spacingAndGlyphs">C</text>
<text x="739.42" y="1641" font-size="72" font-weight="normal" fill="#ff0000" textLength="52.67" lengthAdjust="spacingAndGlyphs">D</text>
<text x="954.67" y="1637" font-size="72" font-weight="normal" fill="#ff0000" textLength="48.24" lengthAdjust="spacingAndGlyphs">E</text>
<text x="1111.99" y="1629.1" font-size="72" font-weight="normal" fill="#ff0000" textLength="43.24" lengthAdjust="spacingAndGlyphs">F</text>
<text x="174.27" y="1940" font-size="72" font-weight="normal" fill="#ff0000" textLength="45.87" lengthAdjust="spacingAndGlyphs">A</text>
<text x="223.98" y="1932.4" font-size="59.3" font-weight="normal" fill="#ff0000" textLength="24.72" lengthAdjust="spacingAndGlyphs">*</text>
<text x="571.26" y="1754" font-size="87.2" font-weight="bold" fill="#ff0000" textLength="205.01" lengthAdjust="spacingAndGlyphs">CdBr</text>
<text x="773.24" y="1781.6" font-size="52.7" font-weight="normal" fill="#ff0000" textLength="30.52" lengthAdjust="spacingAndGlyphs">2</text>
<text x="798.19" y="1754" font-size="84.4" font-weight="normal" fill="#ff0000" textLength="90.52" lengthAdjust="spacingAndGlyphs">@</text>
<text x="885.41" y="1754" font-size="87.2" font-weight="bold" fill="#ff0000" textLength="304.08" lengthAdjust="spacingAndGlyphs">SWCNT</text>
<text x="1059.01" y="209.8" font-size="51" font-weight="normal" fill="#000" textLength="30.58" lengthAdjust="spacingAndGlyphs">A</text>
<text x="1069.62" y="568.9" font-size="51" font-weight="normal" fill="#ff0000" textLength="28.37" lengthAdjust="spacingAndGlyphs">A</text>
<path d="M905.3,417.2h4.7v34.6h-4.7z" fill="#000"/><path d="M907.5,419.5 L899.5,427.5" stroke="#000" stroke-width="4.2" fill="none"/>
<text x="888.04" y="794.8" font-size="52.1" font-weight="normal" fill="#ff0000" textLength="27.22" lengthAdjust="spacingAndGlyphs">2</text>
<text x="939.11" y="794.8" font-size="52.9" font-weight="normal" fill="#ff0000" textLength="31.38" lengthAdjust="spacingAndGlyphs">A</text>
<text x="971.38" y="786.4" font-size="40" font-weight="normal" fill="#ff0000" textLength="15.03" lengthAdjust="spacingAndGlyphs">*</text>
<text x="1200.55" y="388.3" font-size="39" font-weight="bold" fill="#000" textLength="133.64" lengthAdjust="spacingAndGlyphs">SWCNT</text>
<text x="1064.59" y="772.6" font-size="39" font-weight="bold" fill="#ff0000" textLength="89.76" lengthAdjust="spacingAndGlyphs">CdBr</text>
<text x="1153.13" y="784.8" font-size="22.5" font-weight="normal" fill="#ff0000" textLength="12.94" lengthAdjust="spacingAndGlyphs">2</text>
<text x="1164.85" y="772.6" font-size="39.5" font-weight="normal" fill="#ff0000" textLength="39.41" lengthAdjust="spacingAndGlyphs">@</text>
<text x="1202.56" y="772.6" font-size="39" font-weight="bold" fill="#ff0000" textLength="131.72" lengthAdjust="spacingAndGlyphs">SWCNT</text>
<text x="846.2" y="967.4" font-size="36" font-weight="bold" fill="#000" textLength="57.79" lengthAdjust="spacingAndGlyphs">282</text>
<text x="979.0" y="967.4" font-size="36" font-weight="bold" fill="#000" textLength="56.56" lengthAdjust="spacingAndGlyphs">284</text>
<text x="1111.76" y="967.4" font-size="36" font-weight="bold" fill="#000" textLength="57.65" lengthAdjust="spacingAndGlyphs">286</text>
<text x="1244.55" y="967.4" font-size="36" font-weight="bold" fill="#000" textLength="57.45" lengthAdjust="spacingAndGlyphs">288</text>
<text x="891.75" y="1027.2" font-size="49.4" font-weight="bold" fill="#000" textLength="431.59" lengthAdjust="spacingAndGlyphs">Photon energy (eV)</text>
</g>
</svg>
</body></html>
